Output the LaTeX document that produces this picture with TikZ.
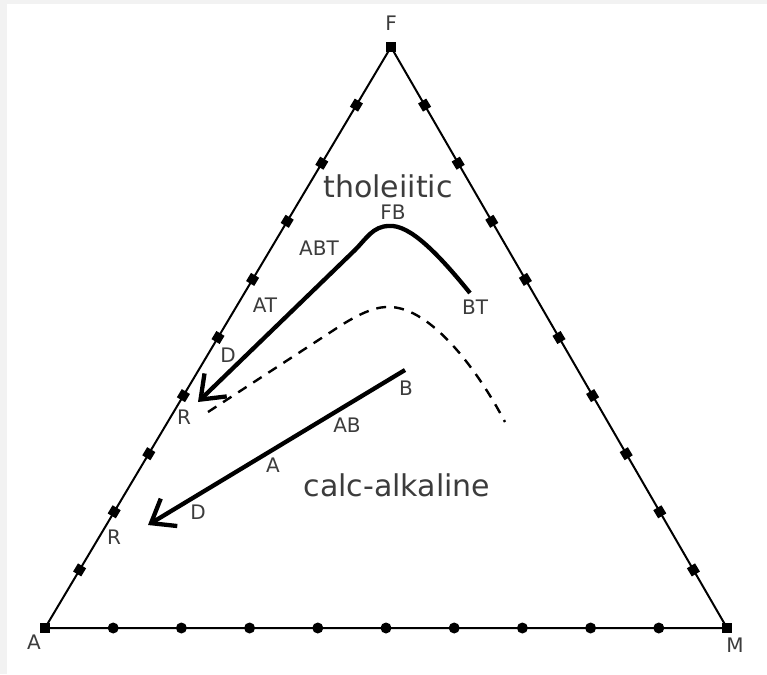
\documentclass[tikz,border=0pt]{standalone}
\usepackage{fontspec}
\setmainfont{DejaVu Sans}
\usetikzlibrary{arrows.meta,calc}
\definecolor{txt}{HTML}{3C3C3C}
\definecolor{bgg}{HTML}{F2F2F2}
\begin{document}
\begin{tikzpicture}[x=1pt,y=-1pt,
 lbl/.style={text=txt,font=\fontsize{20}{24}\selectfont,inner sep=0pt},
 big/.style={text=txt,font=\fontsize{30}{36}\selectfont,inner sep=0pt},
 sq/.style={fill=black,minimum size=9.5pt,inner sep=0pt,draw=none},
 dotmark/.style={circle,fill=black,minimum size=11pt,inner sep=0pt,draw=none},
 side/.style={line width=2pt},
 trend/.style={line width=4.3pt},
 barb/.style={-{Straight Barb[length=21pt,width=32pt]}},
 dashline/.style={line width=2.4pt,dash pattern=on 10pt off 8pt}
]
\useasboundingbox (0,0) rectangle (767,674);
\fill[bgg] (0,0) rectangle (767,674);
\fill[white] (7,4) rectangle (767,674);
\coordinate (A) at (45,628);
\coordinate (M) at (727,628);
\coordinate (F) at (391,47);
\draw[side] (A) -- (M) -- (F) -- cycle;
\node[sq] (vA) at (A) {};
\node[sq] (vM) at (M) {};
\node[sq] (vF) at (F) {};
\foreach \i in {1,...,9} {
  \node[sq,rotate=59] (l\i) at ($(A)!\i/10!(F)$) {};
  \node[sq,rotate=-59] (r\i) at ($(M)!\i/10!(F)$) {};
  \node[dotmark] (b\i) at ($(A)!\i/10!(M)$) {};
}
\node[lbl] (tA) at (34,642) {A};
\node[lbl] (tM) at (735,645) {M};
\node[lbl] (tF) at (391,23) {F};
% tholeiitic trend
\coordinate (btend) at (470,293);
\coordinate (fbpeak) at (389,226);
\coordinate (tbend) at (355,250);
\coordinate (rtip1) at (198,402);
\draw[trend,barb] (btend) .. controls (440,256) and (410,224) .. (fbpeak)
  .. controls (373,226) and (366,239) .. (tbend) -- (rtip1);
% dashed divide
\coordinate (d0) at (208,412);
\coordinate (d1) at (340,326);
\coordinate (d2) at (391,307);
\coordinate (d3) at (505,422);
\draw[dashline] (d0) -- (d1) .. controls (362,312) and (378,306) .. (d2)
  .. controls (430,309) and (475,365) .. (d3);
% calc-alkaline trend
\coordinate (bstart) at (405,370);
\coordinate (rtip2) at (148,525);
\draw[trend,barb] (bstart) -- (rtip2);
% labels
\node[big] (thol) at (388,186) {tholeiitic};
\node[big] (calc) at (397,485) {calc-alkaline};
\node[lbl] (nFB) at (393,212) {FB};
\node[lbl] (nABT) at (319,248) {ABT};
\node[lbl] (nAT) at (265,305) {AT};
\node[lbl] (nD1) at (228,355) {D};
\node[lbl] (nR1) at (184,417) {R};
\node[lbl] (nBT) at (475,307) {BT};
\node[lbl] (nB) at (406,388) {B};
\node[lbl] (nAB) at (347,425) {AB};
\node[lbl] (nA) at (273,465) {A};
\node[lbl] (nD2) at (198,512) {D};
\node[lbl] (nR2) at (114,537) {R};
\end{tikzpicture}
\end{document}
